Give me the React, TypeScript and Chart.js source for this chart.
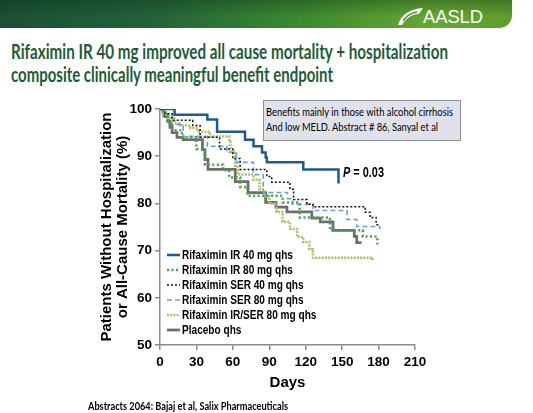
import React, { useEffect, useLayoutEffect, useRef } from "react";
import { Chart, registerables } from "chart.js";

Chart.register(...registerables);

// ---------- data ----------
const xTickValues = [0, 30, 60, 90, 120, 150, 180, 210];
const yTickValues = [50, 60, 70, 80, 90, 100];

const ir40Days = [0, 12, 39, 47, 70, 77, 84, 87, 88, 118, 147];
const ir40Surv = [100, 98.8, 97.8, 95.2, 93.5, 92.1, 90.8, 89.7, 88.7, 87.2, 84.2];

const ir80Days = [0, 3, 6, 10, 18, 30, 37, 52, 57, 66, 72, 101, 115, 140, 167, 179];
const ir80Surv = [100, 98.5, 97, 95.5, 94, 91.5, 88.2, 87, 85.5, 83.5, 81.6, 80.2, 77, 74.3, 73, 71.3];

const ser40Days = [0, 4, 10, 27, 33, 49, 60, 66, 88, 92, 107, 110, 121, 126, 169, 173, 178, 180];
const ser40Surv = [100, 99, 97.6, 96.5, 94, 91.5, 89.5, 87.2, 85.7, 84.5, 83, 80.8, 79.8, 79.3, 78.1, 77, 75.5, 75.5];

const ser80Days = [0, 5, 10, 19, 39, 55, 63, 77, 85, 105, 109, 126, 154, 162, 181];
const ser80Surv = [100, 99, 96.7, 94.2, 92.1, 90.8, 88.7, 86.1, 82.3, 81, 79.8, 78.5, 76.6, 75.1, 74.5];

const irSer80Days = [0, 3, 7, 12, 17, 25, 31, 41, 57, 58, 62, 64, 77, 82, 86, 90, 96, 101, 107, 113, 118, 123, 126, 175];
const irSer80Surv = [100, 99, 98, 97, 96.5, 96, 95.2, 94.2, 93, 91, 88, 86.1, 85, 83, 81.5, 80, 78.2, 76.1, 74.6, 72.9, 71.8, 70.3, 68.5, 68];

const placeboDays = [0, 2.5, 4, 6.6, 8.2, 10, 14, 19, 35, 37, 39.5, 62, 72.5, 87, 95.5, 104.5, 125, 132, 142.5, 160, 162, 166];
const placeboSurv = [100, 99.3, 98.4, 97.4, 96.1, 95, 94, 93.5, 91.4, 89.3, 87.2, 84.6, 82.3, 80.2, 79.2, 78.2, 76.9, 76.1, 74.3, 73, 71.7, 71.7];

const seriesLabels = [
  "Rifaximin IR 40 mg qhs",
  "Rifaximin IR 80 mg qhs",
  "Rifaximin SER 40 mg qhs",
  "Rifaximin SER 80 mg qhs",
  "Rifaximin IR/SER 80 mg qhs",
  "Placebo qhs",
];

const SERIES = [
  { days: ir40Days, surv: ir40Surv, color: "#1f5b8a", width: 2.5, dash: [] as number[] },
  { days: ir80Days, surv: ir80Surv, color: "#3fa84a", width: 2.5, dash: [2, 2.5] },
  { days: ser40Days, surv: ser40Surv, color: "#111111", width: 1.5, dash: [2, 2] },
  { days: ser80Days, surv: ser80Surv, color: "#6f9fd2", width: 1.6, dash: [5, 3] },
  { days: irSer80Days, surv: irSer80Surv, color: "#a9c167", width: 2.5, dash: [2, 1.2] },
  { days: placeboDays, surv: placeboSurv, color: "#6e6e6e", width: 2.8, dash: [] as number[] },
];

const ARIAL = '"Liberation Sans", Arial, sans-serif';
const LATO = 'Lato, "Open Sans", sans-serif';

// ---------- helpers ----------
function FitText(props: {
  left: number; top: number; width: number; size: number; family: string;
  weight?: number | string; color?: string; children: React.ReactNode;
}) {
  const ref = useRef<HTMLSpanElement>(null);
  useLayoutEffect(() => {
    const el = ref.current;
    if (!el) return;
    el.style.transform = "none";
    const w = el.getBoundingClientRect().width;
    if (w > 0) el.style.transform = `scaleX(${props.width / w})`;
  });
  return (
    <span
      ref={ref}
      style={{
        position: "absolute",
        left: props.left,
        top: props.top,
        whiteSpace: "nowrap",
        transformOrigin: "0 0",
        fontFamily: props.family,
        fontSize: props.size,
        fontWeight: props.weight ?? 400,
        color: props.color ?? "#000",
        lineHeight: `${props.size}px`,
      }}
    >
      {props.children}
    </span>
  );
}

const insideLegend = {
  id: "insideLegend",
  afterDraw(chart: any) {
    const { ctx, chartArea } = chart;
    const x0 = chartArea.left + 7;
    const baseY = chartArea.top + 150;
    ctx.save();
    chart.data.datasets.forEach((ds: any, i: number) => {
      const y = baseY + i * 15;
      ctx.beginPath();
      ctx.strokeStyle = ds.borderColor;
      ctx.lineWidth = ds.borderWidth;
      ctx.setLineDash(ds.borderDash || []);
      ctx.moveTo(x0, y - 4);
      ctx.lineTo(x0 + 13, y - 4);
      ctx.stroke();
      ctx.setLineDash([]);
      ctx.save();
      ctx.translate(x0 + 15, y);
      ctx.scale(0.82, 1);
      ctx.font = `bold 12.3px ${ARIAL}`;
      ctx.fillStyle = "#000";
      ctx.textBaseline = "alphabetic";
      ctx.textAlign = "left";
      ctx.fillText(ds.label, 0, 0);
      ctx.restore();
    });
    ctx.restore();
  },
};

function KMChart() {
  const canvasRef = useRef<HTMLCanvasElement>(null);
  useEffect(() => {
    const canvas = canvasRef.current;
    if (!canvas) return;
    const datasets = SERIES.map((s, i) => ({
      label: seriesLabels[i],
      data: s.days.map((d, k) => ({ x: d, y: s.surv[k] })),
      borderColor: s.color,
      backgroundColor: s.color,
      borderWidth: s.width,
      borderDash: s.dash,
      stepped: true as const,
      pointRadius: 0,
      fill: false,
    }));
    const chart = new Chart(canvas, {
      type: "line",
      data: { datasets },
      plugins: [insideLegend],
      options: {
        responsive: false,
        animation: false,
        devicePixelRatio: 1,
        layout: { padding: { left: 99, right: 118, top: 109, bottom: 21 } },
        plugins: { legend: { display: false }, tooltip: { enabled: false }, title: { display: false } },
        scales: {
          x: {
            type: "linear",
            min: 0,
            max: 210,
            afterBuildTicks: (scale: any) => {
              scale.ticks = xTickValues.map((v) => ({ value: v }));
            },
            afterFit: (scale: any) => {
              scale.height = 47;
            },
            ticks: {
              color: "#000",
              font: { family: ARIAL, size: 13.5, weight: "bold" },
              padding: 4,
              maxRotation: 0,
            },
            grid: { display: true, drawOnChartArea: false, drawTicks: true, tickLength: 5, color: "#8a8a8a", lineWidth: 1.5 },
            border: { display: true, color: "#8a8a8a", width: 1.5 },
            title: {
              display: true,
              text: "Days",
              color: "#000",
              font: { family: ARIAL, size: 15, weight: "bold", lineHeight: 1.2 },
              padding: 0,
            },
          },
          y: {
            type: "linear",
            min: 50,
            max: 100,
            afterBuildTicks: (scale: any) => {
              scale.ticks = yTickValues.map((v) => ({ value: v }));
            },
            afterFit: (scale: any) => {
              scale.width = 61;
            },
            ticks: {
              color: "#000",
              font: { family: ARIAL, size: 13.5, weight: "bold" },
              padding: 3,
            },
            grid: { display: true, drawOnChartArea: false, drawTicks: true, tickLength: 5, color: "#8a8a8a", lineWidth: 1.5 },
            border: { display: true, color: "#8a8a8a", width: 1.5 },
            title: {
              display: true,
              text: ["Patients Without Hospitalization", "or All-Cause Mortality (%)"],
              color: "#000",
              font: { family: ARIAL, size: 15, weight: "bold", lineHeight: "16px" as any },
              padding: 0,
            },
          },
        },
      },
    });
    return () => chart.destroy();
  }, []);
  return (
    <canvas
      ref={canvasRef}
      width={533}
      height={413}
      style={{ position: "absolute", left: 0, top: 0, width: 533, height: 413, display: "block" }}
    />
  );
}

export default function App() {
  return (
    <div
      style={{
        position: "absolute",
        left: 0,
        top: 0,
        width: 533,
        height: 413,
        overflow: "hidden",
        background: "#fff",
      }}
    >
      {/* header bar */}
      <div
        style={{
          position: "absolute",
          left: 0,
          top: 0,
          width: 512,
          height: 28,
          borderBottomRightRadius: 13,
          background:
            "linear-gradient(to bottom, rgba(10,45,25,0.35) 0%, rgba(10,45,25,0.0) 60%), linear-gradient(to right, #1b5034 0%, #236339 30%, #3f8a30 60%, #66a830 85%, #5e9e2c 100%)",
        }}
      />
      <svg
        style={{ position: "absolute", left: 397, top: 6 }}
        width={27}
        height={20}
        viewBox="0 0 27 20"
      >
        <path d="M1 19 C 4 9, 12 3, 26 2 L 22 8 C 15 8, 9 12, 5 19 Z" fill="#ffffff" />
        <path d="M6 15 C 9 10, 14 7, 20 6" stroke="#4a8f34" strokeWidth={1.4} fill="none" />
      </svg>
      <FitText left={423} top={8.3} width={60} size={18.5} family={ARIAL} color="#ffffff">
        AASLD
      </FitText>

      {/* title */}
      <FitText left={11} top={41.4} width={437} size={21.5} family={LATO} weight={700} color="#1d5c37">
        Rifaximin IR 40 mg improved all cause mortality + hospitalization
      </FitText>
      <FitText left={11} top={64.4} width={322} size={21.5} family={LATO} weight={700} color="#1d5c37">
        composite clinically meaningful benefit endpoint
      </FitText>

      <KMChart />

      {/* annotation box */}
      <div
        style={{
          position: "absolute",
          left: 263,
          top: 100,
          width: 196,
          height: 39,
          background: "#dfe2ea",
          border: "1px solid #8c9099",
        }}
      />
      <FitText left={266} top={105.9} width={187} size={12} family={LATO} weight={400} color="#000">
        Benefits mainly in those with alcohol cirrhosis
      </FitText>
      <FitText left={266} top={121.4} width={172} size={12} family={LATO} weight={400} color="#000">
        {"And low MELD.  Abstract # 86, Sanyal et al"}
      </FitText>

      {/* p-value */}
      <FitText left={343} top={164.9} width={41} size={14} family={ARIAL} weight={700} color="#000">
        <i>P</i> = 0.03
      </FitText>

      {/* footer */}
      <FitText left={88} top={399.5} width={200} size={12} family={LATO} weight={700} color="#000">
        {"Abstracts 2064:  Bajaj et al, Salix Pharmaceuticals"}
      </FitText>
    </div>
  );
}
